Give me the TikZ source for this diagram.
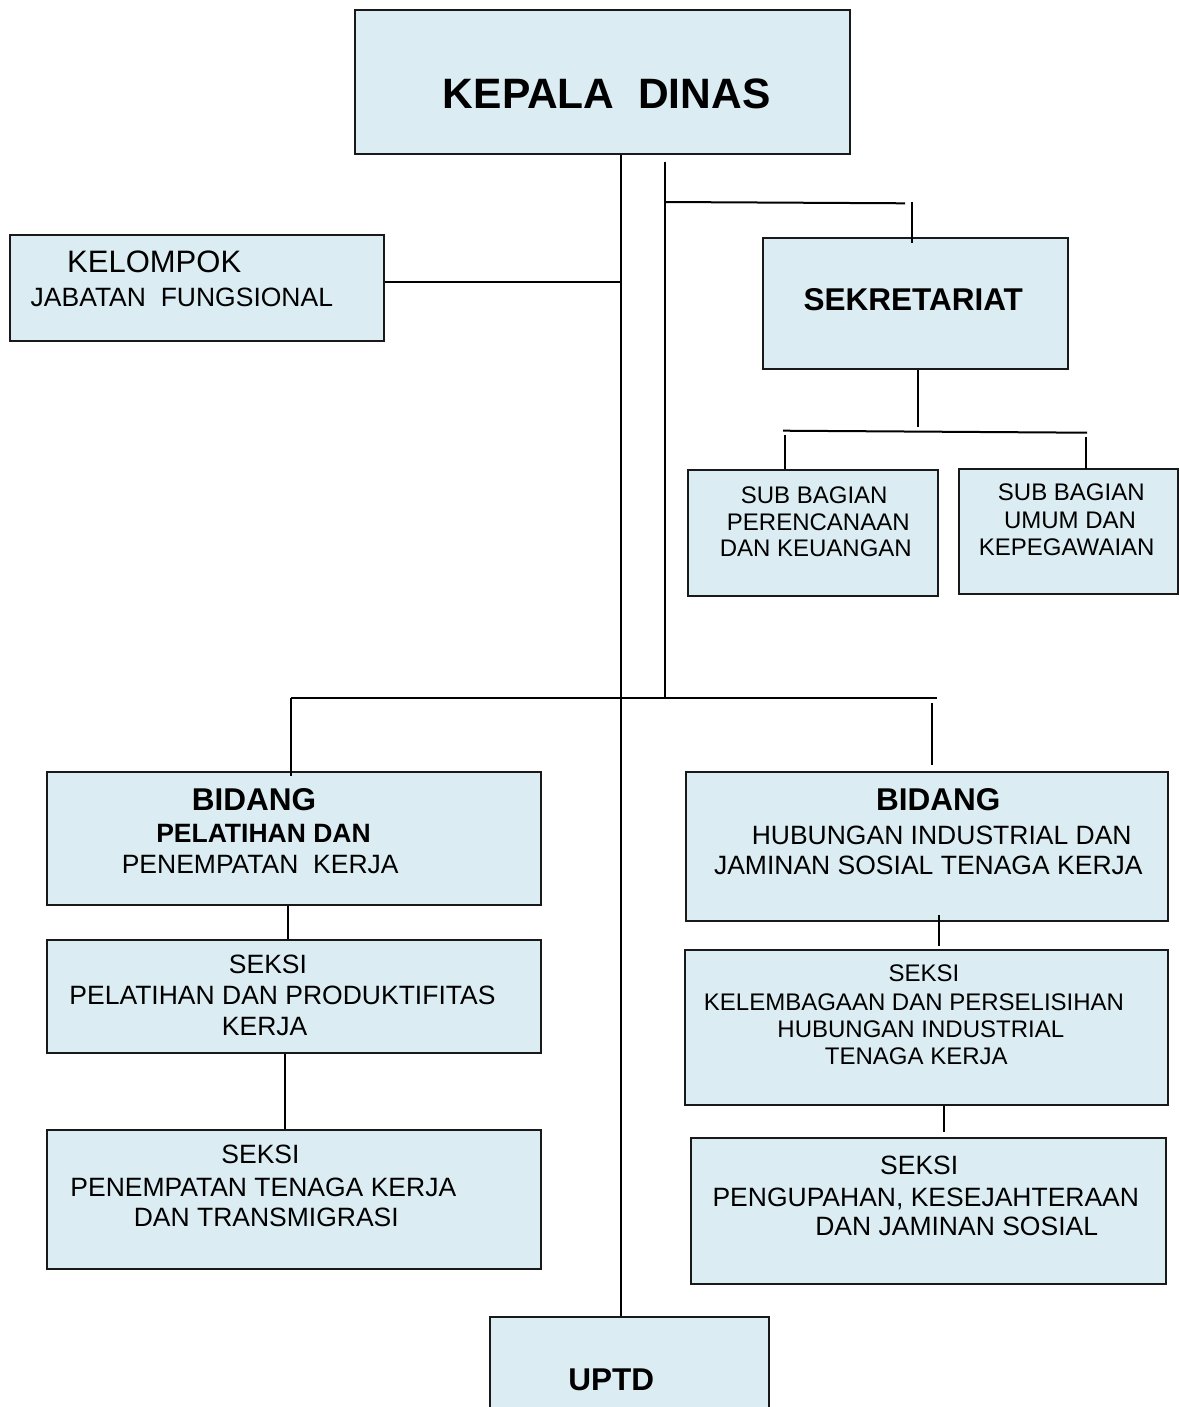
\documentclass[tikz,border=0pt]{standalone}
\usepackage{fontspec}
\setmainfont{Liberation Sans}
\definecolor{boxblue}{RGB}{219,237,243}
\definecolor{edge}{RGB}{25,25,25}
\tikzset{
  box/.style={rectangle, draw=edge, line width=2.2pt, fill=boxblue, inner sep=0pt, anchor=north west},
  conn/.style={line width=2pt, draw=black},
  lbl/.style={anchor=base, inner sep=0pt, text=black},
  lblw/.style={anchor=base west, inner sep=0pt, text=black},
  bigf/.style={font=\bfseries\fontsize{42.5}{50}\selectfont},
  headf/.style={font=\bfseries\fontsize{31.5}{36}\selectfont},
  subhf/.style={font=\bfseries\fontsize{26.5}{30}\selectfont},
  bodyf/.style={font=\fontsize{26.5}{30}\selectfont},
  smallf/.style={font=\fontsize{24}{28}\selectfont},
  kelf/.style={font=\fontsize{31}{36}\selectfont},
}
\begin{document}
\begin{tikzpicture}[x=1pt,y=-1pt]
\useasboundingbox (0,0) rectangle (1178,1407);
\fill[white] (0,0) rectangle (1178,1407);

% boxes
\node[box, minimum width=495pt, minimum height=144pt] (kepala) at (354,9) {};
\node[box, minimum width=374pt, minimum height=106pt] (kelompok) at (9,234) {};
\node[box, minimum width=305pt, minimum height=131pt] (sek) at (762,237) {};
\node[box, minimum width=250pt, minimum height=126pt] (sb1) at (687,469) {};
\node[box, minimum width=219pt, minimum height=125pt] (sb2) at (958,468) {};
\node[box, minimum width=494pt, minimum height=133pt] (bid1) at (46,771) {};
\node[box, minimum width=482pt, minimum height=149pt] (bid2) at (685,771) {};
\node[box, minimum width=494pt, minimum height=113pt] (sk1) at (46,939) {};
\node[box, minimum width=494pt, minimum height=139pt] (sk2) at (46,1129) {};
\node[box, minimum width=483pt, minimum height=155pt] (kel) at (684,949) {};
\node[box, minimum width=475pt, minimum height=146pt] (peng) at (690,1137) {};
\node[box, minimum width=279pt, minimum height=130pt] (uptd) at (489,1316) {};

% texts
\node[lbl, bigf] (tkepala) at (606.7,108.3) {KEPALA\ \ DINAS};
\node[lblw, kelf] (tkel1) at (67,272.7) {KELOMPOK};
\node[lblw, bodyf] (tkel2) at (30.5,306.7) {JABATAN\ \ FUNGSIONAL};
\node[lbl, headf] (tsek) at (913.3,310) {SEKRETARIAT};
\node[lbl, smallf] (tsb1a) at (814.2,503.3) {SUB BAGIAN};
\node[lbl, smallf] (tsb1b) at (818.3,530) {PERENCANAAN};
\node[lbl, smallf] (tsb1c) at (815.8,556.7) {DAN KEUANGAN};
\node[lbl, smallf] (tsb2a) at (1071.3,500) {SUB BAGIAN};
\node[lbl, smallf] (tsb2b) at (1070,528.3) {UMUM DAN};
\node[lbl, smallf] (tsb2c) at (1066.7,555) {KEPEGAWAIAN};
\node[lbl, headf] (tb1a) at (254,810.7) {BIDANG};
\node[lbl, subhf] (tb1b) at (263.5,842.7) {PELATIHAN DAN};
\node[lbl, bodyf] (tb1c) at (260.2,873.3) {PENEMPATAN\ \ KERJA};
\node[lbl, headf] (tb2a) at (938.3,810.7) {BIDANG};
\node[lbl, bodyf] (tb2b) at (941.7,844) {HUBUNGAN INDUSTRIAL DAN};
\node[lbl, bodyf] (tb2c) at (928.3,874) {JAMINAN SOSIAL TENAGA KERJA};
\node[lbl, bodyf] (tk1a) at (268,973.3) {SEKSI};
\node[lbl, bodyf] (tk1b) at (282.5,1004.3) {PELATIHAN DAN PRODUKTIFITAS};
\node[lbl, bodyf] (tk1c) at (264.7,1035.3) {KERJA};
\node[lbl, bodyf] (tk2a) at (260.5,1163.3) {SEKSI};
\node[lbl, bodyf] (tk2b) at (263.3,1196) {PENEMPATAN TENAGA KERJA};
\node[lbl, bodyf] (tk2c) at (266.3,1226) {DAN TRANSMIGRASI};
\node[lbl, smallf] (tl1) at (924,981.7) {SEKSI};
\node[lbl, smallf] (tl2) at (914,1010) {KELEMBAGAAN DAN PERSELISIHAN};
\node[lbl, smallf] (tl3) at (920.8,1037.7) {HUBUNGAN INDUSTRIAL};
\node[lbl, smallf] (tl4) at (916.3,1064) {TENAGA KERJA};
\node[lbl, bodyf] (tp1) at (919.2,1174) {SEKSI};
\node[lbl, bodyf] (tp2) at (925.8,1206.7) {PENGUPAHAN, KESEJAHTERAAN};
\node[lbl, bodyf] (tp3) at (956.7,1235) {DAN JAMINAN SOSIAL};
\node[lbl, headf] (tuptd) at (611.3,1390) {UPTD};

% junction coordinates
\coordinate (mx) at (621,0);
\coordinate (kj) at (621,282);
\coordinate (s1) at (665,162);
\coordinate (s2) at (665,698);
\coordinate (hs1) at (665,202);
\coordinate (hs2) at (905,203.3);
\coordinate (sv) at (912,202);
\coordinate (sd) at (918,427);
\coordinate (sh1) at (783,430.7);
\coordinate (sh2) at (1087,432.7);
\coordinate (sl) at (785,435);
\coordinate (sr) at (1086,437);
\coordinate (bh1) at (291,698);
\coordinate (bh2) at (937,698);
\coordinate (br) at (932,703);
\coordinate (brb) at (932,765);
\coordinate (c1) at (288,0);
\coordinate (c2) at (285,0);
\coordinate (c3) at (939,915);
\coordinate (c3b) at (939,946);
\coordinate (c4) at (944,1132);

% connectors
\draw[conn] (kepala.south -| mx) -- (uptd.north -| mx);
\draw[conn] (kj -| kelompok.east) -- (kj);
\draw[conn] (s1) -- (s2);
\draw[conn] (hs1) -- (hs2);
\draw[conn] (sv) -- ([yshift=-6pt]sv |- sek.north);
\draw[conn] (sek.south -| sd) -- (sd);
\draw[conn] (sh1) -- (sh2);
\draw[conn] (sl) -- (sl |- sb1.north);
\draw[conn] (sr) -- ([yshift=-1pt]sr |- sb2.north);
\draw[conn] (bh1) -- (bh2);
\draw[conn] (bh1) -- ([yshift=-5pt]bh1 |- bid1.north);
\draw[conn] (br) -- (brb);
\draw[conn] (bid1.south -| c1) -- (sk1.north -| c1);
\draw[conn] (sk1.south -| c2) -- (sk2.north -| c2);
\draw[conn] (c3) -- (c3b);
\draw[conn] (kel.south -| c4) -- (c4);
\end{tikzpicture}
\end{document}
